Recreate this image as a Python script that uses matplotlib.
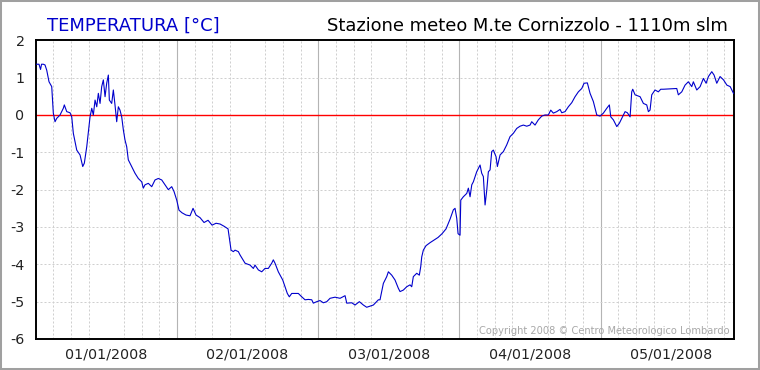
import matplotlib
matplotlib.use("Agg")
import matplotlib.pyplot as plt
from matplotlib.patches import Rectangle

plt.rcParams['axes.unicode_minus'] = False

# hours since 00:00 of 01/01/2008 and temperature in degrees C
hours = [0.0, 0.22, 0.56, 0.82, 0.99, 1.29, 1.58, 1.87, 2.26, 2.72, 2.99, 3.28,
         3.57, 4.13, 4.69, 4.86, 5.27, 5.83, 6.12, 6.39, 6.97, 7.53, 7.99, 8.26,
         8.67, 9.23, 9.52, 9.79, 10.08, 10.37, 10.64, 10.93, 11.21, 11.49, 11.78,
         12.06, 12.34, 12.51, 12.91, 13.19, 13.47, 13.76, 14.04, 14.32, 14.61,
         14.89, 15.17, 15.46, 15.73, 16.31, 16.87, 17.43, 18.01, 18.28, 18.57,
         19.13, 19.71, 20.27, 20.83, 21.41, 21.97, 22.53, 23.11, 23.50, 23.96,
         24.35, 24.86, 25.54, 26.22, 26.73, 27.24, 27.92, 28.60, 29.28, 29.96,
         30.64, 31.32, 32.00, 32.68, 33.19, 33.58, 33.87, 34.43, 34.72, 35.57,
         36.42, 36.98, 37.26, 37.83, 38.40, 38.96, 39.52, 40.10, 40.37, 40.66,
         41.22, 41.97, 42.36, 42.75, 43.09, 43.50, 44.06, 44.62, 45.20, 45.76,
         46.32, 46.90, 47.17, 47.75, 48.31, 48.87, 49.45, 50.01, 50.86, 51.71,
         52.56, 52.85, 53.70, 54.26, 54.99, 55.67, 56.24, 56.81, 57.37, 58.22,
         58.50, 59.07, 59.64, 59.92, 60.49, 61.05, 61.61, 61.90, 62.46, 63.04,
         63.60, 63.89, 64.16, 64.74, 65.18, 65.42, 65.59, 65.86, 66.32, 67.00,
         67.68, 68.36, 69.04, 69.72, 70.40, 70.96, 71.25, 71.54, 71.76, 72.10,
         72.22, 72.66, 73.24, 73.51, 73.80, 74.09, 74.36, 74.65, 74.93, 75.21,
         75.50, 75.78, 76.06, 76.35, 76.64, 76.91, 77.20, 77.48, 77.76, 78.22,
         78.44, 78.90, 79.46, 80.03, 80.59, 81.16, 81.73, 82.29, 82.86, 83.43,
         83.99, 84.28, 84.84, 85.40, 85.98, 86.54, 87.10, 87.51, 87.95, 88.53,
         89.09, 89.38, 89.94, 90.50, 91.08, 91.64, 92.20, 92.78, 93.17, 93.73,
         94.19, 94.75, 95.33, 95.89, 96.45, 97.03, 97.47, 97.71, 98.15, 98.73,
         99.17, 99.58, 100.14, 100.53, 100.99, 101.27, 101.44, 101.84, 102.69,
         103.25, 103.82, 104.10, 104.38, 104.67, 105.23, 105.79, 106.20, 106.64,
         107.78, 108.92, 109.19, 109.77, 110.33, 110.89, 111.47, 111.74, 112.32,
         112.89, 113.45, 113.91, 114.30, 114.87, 115.26, 115.72, 116.28, 116.87,
         117.44, 118.00, 118.56]
temp = [1.36, 1.36, 1.36, 1.22, 1.36, 1.36, 1.34, 1.20, 0.89, 0.76, 0.05, -0.18,
        -0.09, 0.0, 0.18, 0.27, 0.09, 0.06, -0.05, -0.49, -0.94, -1.07, -1.38, -1.29,
        -0.85, -0.05, 0.18, 0.0, 0.40, 0.22, 0.58, 0.31, 0.76, 0.94, 0.49,
        0.85, 1.07, 0.40, 0.31, 0.67, 0.27, -0.18, 0.22, 0.13, -0.05,
        -0.40, -0.67, -0.85, -1.20, -1.38, -1.56, -1.70, -1.79, -1.96, -1.87,
        -1.83, -1.92, -1.74, -1.70, -1.74, -1.87, -2.00, -1.92, -2.05, -2.28,
        -2.55, -2.62, -2.68, -2.70, -2.50, -2.68, -2.75, -2.88, -2.82, -2.95,
        -2.90, -2.92, -2.98, -3.05, -3.62, -3.66, -3.62, -3.66, -3.75, -3.97,
        -4.02, -4.11, -4.02, -4.15, -4.20, -4.11, -4.11, -3.97, -3.88, -3.97,
        -4.20, -4.42, -4.60, -4.78, -4.87, -4.78, -4.78, -4.78, -4.87, -4.95,
        -4.94, -4.95, -5.04, -5.00, -4.97, -5.03, -5.00, -4.91, -4.88, -4.91,
        -4.84, -5.04, -5.03, -5.09, -5.00, -5.09, -5.15, -5.12, -5.09, -4.95,
        -4.95, -4.51, -4.33, -4.20, -4.29, -4.42, -4.64, -4.73, -4.69, -4.60,
        -4.55, -4.60, -4.33, -4.24, -4.29, -4.06, -3.80, -3.62, -3.50, -3.42,
        -3.35, -3.28, -3.18, -3.05, -2.79, -2.54, -2.50, -2.77, -3.18, -3.22,
        -2.28, -2.19, -2.10, -1.96, -2.19, -1.87, -1.79, -1.65, -1.52, -1.43,
        -1.34, -1.56, -1.65, -2.41, -2.01, -1.52, -1.47, -0.98, -0.94, -1.12,
        -1.38, -1.07, -0.98, -0.80, -0.58, -0.49, -0.36, -0.30, -0.27, -0.30,
        -0.27, -0.18, -0.27, -0.13, -0.03, 0.0, 0.0, 0.13, 0.05, 0.09,
        0.15, 0.06, 0.09, 0.22, 0.33, 0.49, 0.62, 0.71, 0.85, 0.86,
        0.58, 0.36, 0.0, -0.03, 0.05, 0.18, 0.27, -0.05, -0.13, -0.31,
        -0.22, -0.09, 0.09, 0.06, -0.05, 0.62, 0.69, 0.54, 0.49,
        0.31, 0.27, 0.09, 0.13, 0.54, 0.67, 0.62, 0.69, 0.69,
        0.70, 0.71, 0.54, 0.62, 0.80, 0.89, 0.76, 0.89, 0.67,
        0.76, 0.98, 0.85, 1.03, 1.16, 1.07, 0.85, 1.03, 0.94,
        0.80, 0.76, 0.58]

day_labels = ["01/01/2008", "02/01/2008", "03/01/2008", "04/01/2008", "05/01/2008"]
day_centers = [12, 36, 60, 84, 108]
day_starts = [24, 48, 72, 96]
y_ticks = [-6, -5, -4, -3, -2, -1, 0, 1, 2]

fig = plt.figure(figsize=(7.6, 3.7), dpi=100)
ax = fig.add_axes([0.047, 0.0838, 0.9192, 0.8072])

ax.set_xlim(0, 118.7)
ax.set_ylim(-6, 2)

# ticks: labels at midday, dotted grid every 3 hours
ax.set_xticks(day_centers)
ax.set_xticklabels(day_labels)
ax.set_xticks([h for h in range(3, 118, 3) if h % 24], minor=True)
ax.set_yticks(y_ticks)
ax.tick_params(axis='both', which='both', length=0, labelsize=10.3, colors='#222222')
ax.tick_params(axis='y', pad=8)
ax.tick_params(axis='x', pad=6)
ax.grid(axis='x', which='minor', color='#cfcfcf', lw=0.72, ls=(0, (2, 2)))
ax.grid(axis='y', which='major', color='#cfcfcf', lw=0.72, ls=(0, (2, 2)))
for d in day_starts:
    ax.axvline(d, color='#b4b4b4', lw=0.8, zorder=1)
ax.axhline(0, color='#ff0000', lw=1.0, zorder=2)

ax.plot(hours, temp, color='#0000cc', lw=0.8, zorder=3)

for s in ax.spines.values():
    s.set_linewidth(1.4)
    s.set_color('black')

fig.text(0.0614, 0.917, "TEMPERATURA [°C]", color='#0000cc', fontsize=13,
         va='baseline', ha='left')
fig.text(0.958, 0.917, "Stazione meteo M.te Cornizzolo - 1110m slm", color='black',
         fontsize=12.9, va='baseline', ha='right')
fig.text(0.9605, 0.0973, "Copyright 2008 © Centro Meteorologico Lombardo",
         color='#a8a8a8', fontsize=7.15, va='baseline', ha='right')

fig.patches.append(Rectangle((0, 0), 1, 1, transform=fig.transFigure, fill=False,
                             edgecolor='#a0a0a0', lw=2.9))

plt.savefig('out.png', dpi=100)
